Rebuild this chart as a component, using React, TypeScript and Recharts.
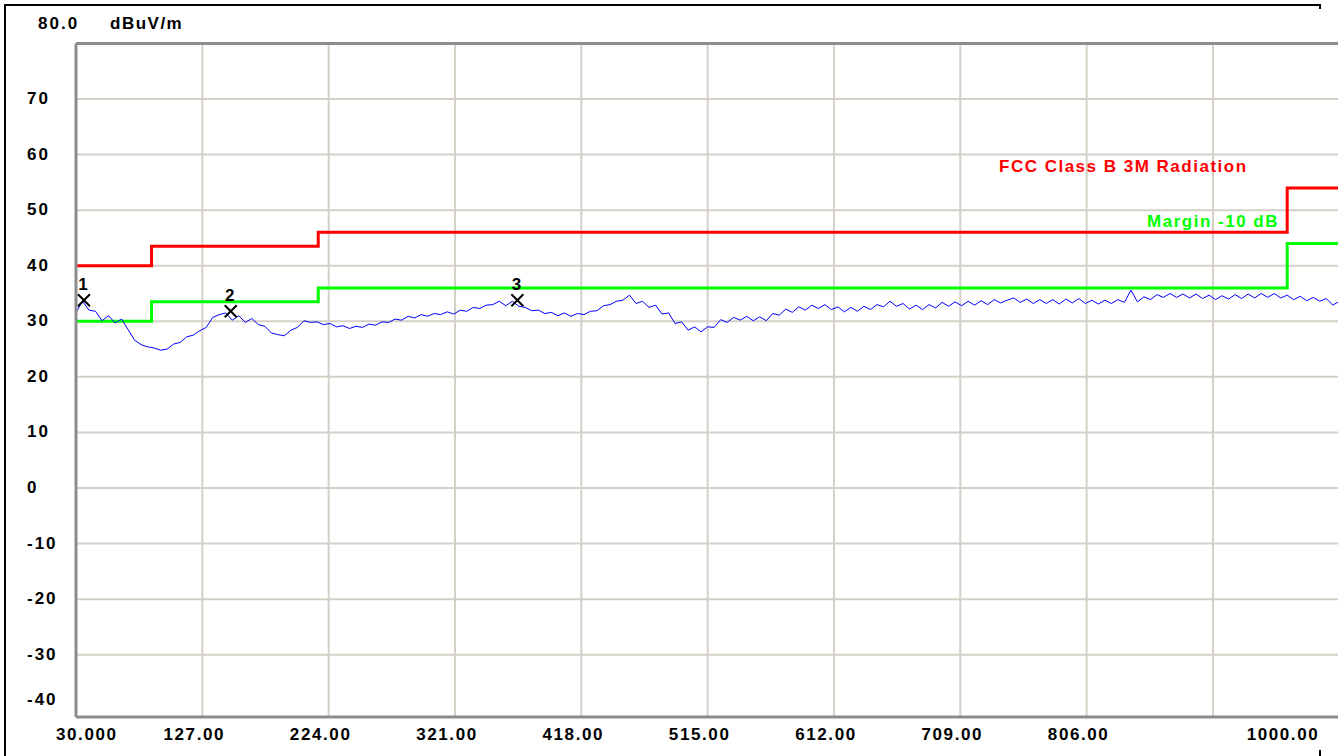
import React from 'react'
import {
  ComposedChart,
  Line,
  Scatter,
  XAxis,
  YAxis,
  CartesianGrid,
  ReferenceLine,
} from 'recharts'

// sweep frequencies (MHz)
const traceFreqs = [
  30, 35, 40, 45, 50, 55, 60, 65, 70, 75, 80, 85, 90, 95, 100, 105, 110, 115, 120, 125,
  130, 135, 140, 145, 150, 155, 160, 165, 170, 175, 180, 185, 190, 195, 200, 205, 210, 215, 220, 225,
  230, 235, 240, 245, 250, 255, 260, 265, 270, 275, 280, 285, 290, 295, 300, 305, 310, 315, 320, 325,
  330, 335, 340, 345, 350, 355, 360, 365, 370, 375, 380, 385, 390, 395, 400, 405, 410, 415, 420, 425,
  430, 435, 440, 445, 450, 455, 460, 465, 470, 475, 480, 485, 490, 495, 500, 505, 510, 515, 520, 525,
  530, 535, 540, 545, 550, 555, 560, 565, 570, 575, 580, 585, 590, 595, 600, 605, 610, 615, 620, 625,
  630, 635, 640, 645, 650, 655, 660, 665, 670, 675, 680, 685, 690, 695, 700, 705, 710, 715, 720, 725,
  730, 735, 740, 745, 750, 755, 760, 765, 770, 775, 780, 785, 790, 795, 800, 805, 810, 815, 820, 825,
  830, 835, 840, 845, 850, 855, 860, 865, 870, 875, 880, 885, 890, 895, 900, 905, 910, 915, 920, 925,
  930, 935, 940, 945, 950, 955, 960, 965, 970, 975, 980, 985, 990, 995, 1000,
]

// measured level (dBuV/m)
const traceLevels = [
  31.6, 33.6, 32.0, 31.8, 30.1, 31.0, 29.7, 30.4, 28.5, 26.6, 25.8, 25.4, 25.2, 24.8, 25.0, 25.9, 26.2, 27.2, 27.5, 28.3,
  28.9, 30.7, 31.2, 31.5, 30.2, 31.0, 29.8, 30.5, 29.4, 29.1, 27.9, 27.6, 27.4, 28.4, 28.9, 30.1, 29.8, 29.9, 29.4, 29.6,
  29.0, 29.2, 28.7, 29.1, 28.9, 29.5, 29.3, 29.9, 29.8, 30.4, 30.2, 30.9, 30.6, 31.2, 30.9, 31.4, 31.2, 31.7, 31.3, 32.0,
  31.8, 32.5, 32.3, 32.9, 33.0, 33.6, 32.8, 33.6, 32.7, 32.5, 31.9, 32.0, 31.4, 31.6, 31.0, 31.5, 30.9, 31.4, 31.2, 31.8,
  31.9, 32.8, 33.0, 33.6, 33.8, 34.7, 33.2, 33.6, 32.5, 32.9, 31.3, 31.5, 29.6, 29.9, 28.4, 29.0, 28.1, 29.0, 28.9, 30.3,
  29.8, 30.7, 30.2, 30.9, 30.1, 30.8, 30.1, 31.4, 31.1, 32.2, 31.6, 32.6, 32.0, 32.9, 32.3, 33.0, 32.1, 32.6, 31.7, 32.5,
  31.8, 32.7, 32.1, 33.0, 32.6, 33.6, 32.7, 33.2, 32.2, 32.9, 32.1, 33.0, 32.4, 33.4, 32.7, 33.5, 32.8, 33.6, 32.9, 33.7,
  33.0, 33.9, 33.3, 33.8, 34.2, 33.4, 34.0, 33.2, 33.9, 33.2, 33.9, 33.1, 34.0, 33.3, 34.1, 33.2, 33.8, 33.1, 33.8, 33.2,
  33.9, 33.4, 35.6, 33.5, 34.4, 33.9, 34.8, 34.3, 35.0, 34.3, 34.9, 34.2, 34.9, 34.1, 34.7, 33.9, 34.6, 34.0, 34.8, 34.1,
  34.9, 34.2, 35.0, 34.3, 35.0, 34.2, 34.7, 33.9, 34.5, 33.7, 34.3, 33.6, 34.1, 32.9, 33.6,
]

// FCC Class B 3m limit (step after each frequency)
const limitFreqs = [30, 88, 216, 960, 1000]
const limitLevels = [40, 43.5, 46, 54, 54]
const marginLevels = [30, 33.5, 36, 44, 44]

// peak markers
const markerFreqs = [36.1, 148.8, 368.9]
const markerLevels = [33.8, 31.8, 33.8]
const markerNames = ['1', '2', '3']

// axes
const xTicks = [30, 127, 224, 321, 418, 515, 612, 709, 806, 903, 1000]
const xTickLabels = ['30.000', '127.00', '224.00', '321.00', '418.00', '515.00', '612.00', '709.00', '806.00', '', '1000.00']
const xGrid = [127, 224, 321, 418, 515, 612, 709, 806, 903]
const yTicks = [70, 60, 50, 40, 30, 20, 10, 0, -10, -20, -30, -40]
const yGrid = [70, 60, 50, 40, 30, 20, 10, 0, -10, -20, -30]

const trace = traceFreqs.map((f, i) => ({ f, v: traceLevels[i] }))
const limit = limitFreqs.map((f, i) => ({ f, v: limitLevels[i] }))
const margin = limitFreqs.map((f, i) => ({ f, v: marginLevels[i] }))
const markers = markerFreqs.map((f, i) => ({ f, v: markerLevels[i], name: markerNames[i] }))

const FONT = '"Liberation Sans", Arial, sans-serif'

const YTick = (props: any) => {
  const { y, payload } = props
  const v = payload.value
  return (
    <text
      x={27}
      y={v === -40 ? y - 5 : y + 5}
      textAnchor="start"
      fontFamily={FONT}
      fontWeight="bold"
      fontSize={17}
      letterSpacing={2}
      fill="#000"
    >
      {v}
    </text>
  )
}

const XTick = (props: any) => {
  const { x, y, payload, index } = props
  const label = xTickLabels[index] ?? ''
  if (!label) return null
  let anchor: 'start' | 'middle' | 'end' = 'middle'
  let tx = x - 8
  if (payload.value === 30) {
    anchor = 'start'
    tx = x - 20
  } else if (payload.value === 1000) {
    anchor = 'end'
    tx = x - 20
  }
  return (
    <text
      x={tx}
      y={y + 23}
      textAnchor={anchor}
      fontFamily={FONT}
      fontWeight="bold"
      fontSize={17}
      letterSpacing={1.6}
      fill="#000"
    >
      {label}
    </text>
  )
}

const MarkerShape = (props: any) => {
  const { cx, cy, payload } = props
  return (
    <g>
      <line x1={cx - 6} y1={cy - 6} x2={cx + 6} y2={cy + 6} stroke="#000" strokeWidth={2} />
      <line x1={cx - 6} y1={cy + 6} x2={cx + 6} y2={cy - 6} stroke="#000" strokeWidth={2} />
      <text
        x={cx - 1}
        y={cy - 10}
        textAnchor="middle"
        fontFamily={FONT}
        fontWeight="bold"
        fontSize={17}
        fill="#000"
      >
        {payload.name}
      </text>
    </g>
  )
}

export default function App() {
  return (
    <div
      style={{
        position: 'absolute',
        left: 0,
        top: 0,
        width: 1338,
        height: 756,
        overflow: 'hidden',
        background: '#fff',
      }}
    >
      {/* outer frame */}
      <svg width={1338} height={756} style={{ position: 'absolute', left: 0, top: 0 }}>
        <line x1={5} y1={5} x2={1321} y2={5} stroke="#000" strokeWidth={2} />
        <line x1={5} y1={4} x2={5} y2={756} stroke="#000" strokeWidth={2} />
        <line x1={1320} y1={4} x2={1320} y2={9} stroke="#000" strokeWidth={2} />
        <line x1={1320} y1={750} x2={1320} y2={756} stroke="#000" strokeWidth={2} />
      </svg>
      <div style={{ position: 'absolute', left: 0, top: 0 }}>
        <ComposedChart
          width={1345}
          height={756}
          margin={{ top: 43.4, right: 5.7, left: 0, bottom: 0 }}
        >
          <CartesianGrid
            stroke="#d4d0c8"
            strokeWidth={2}
            horizontalValues={yGrid}
            verticalValues={xGrid}
          />
          <XAxis
            dataKey="f"
            type="number"
            domain={[30, 1000]}
            ticks={xTicks}
            interval={0}
            allowDataOverflow
            height={39}
            tickSize={0}
            tickMargin={0}
            tickLine={false}
            axisLine={{ stroke: '#8c8c8c', strokeWidth: 3 }}
            tick={<XTick />}
          />
          <YAxis
            type="number"
            domain={[-41.2, 80]}
            ticks={yTicks}
            interval={0}
            allowDataOverflow
            width={76}
            tickSize={0}
            tickLine={false}
            axisLine={{ stroke: '#8c8c8c', strokeWidth: 3 }}
            tick={<YTick />}
          />
          <ReferenceLine y={80} stroke="#8c8c8c" strokeWidth={3} />
          <Line
            data={limit}
            dataKey="v"
            type="stepAfter"
            stroke="#ff0000"
            strokeWidth={3}
            dot={false}
            isAnimationActive={false}
          />
          <Line
            data={margin}
            dataKey="v"
            type="stepAfter"
            stroke="#00ff00"
            strokeWidth={3}
            dot={false}
            isAnimationActive={false}
          />
          <Line
            data={trace}
            dataKey="v"
            type="linear"
            stroke="#0000ff"
            strokeWidth={1}
            dot={false}
            isAnimationActive={false}
          />
          <Scatter
            data={markers}
            dataKey="v"
            shape={<MarkerShape />}
            isAnimationActive={false}
          />
        </ComposedChart>
      </div>
      {/* annotations */}
      <svg
        width={1338}
        height={756}
        style={{ position: 'absolute', left: 0, top: 0, pointerEvents: 'none' }}
        fontFamily={FONT}
        fontWeight="bold"
        fontSize={17}
      >
        <text x={38} y={29} fill="#000" letterSpacing={2}>80.0</text>
        <text x={110} y={29} fill="#000" letterSpacing={1.5}>dBuV/m</text>
        <text x={999} y={172} fill="#ff0000" letterSpacing={1.5}>FCC Class B 3M Radiation</text>
        <text x={1279} y={227} fill="#00ff00" textAnchor="end" letterSpacing={1.5}>Margin -10 dB</text>
      </svg>
    </div>
  )
}
